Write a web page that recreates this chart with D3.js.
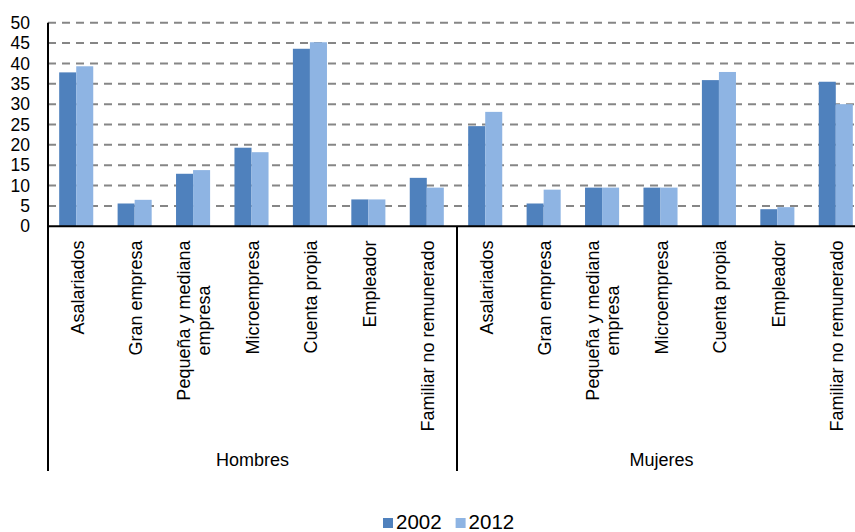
<!DOCTYPE html>
<html>
<head>
<meta charset="utf-8">
<script src="https://cdn.jsdelivr.net/npm/d3@7/dist/d3.min.js"></script>
<style>
  html, body { margin: 0; padding: 0; background: #fff; }
  svg { display: block; font-family: "Liberation Sans", Arial, sans-serif; }
</style>
</head>
<body>
<svg id="chart" width="855" height="532"></svg>
<script>
// Ocupación por categoría y sexo, 2002 y 2012 (%)
const groups = ["Hombres", "Mujeres"];
const categories = [
  "Asalariados",
  "Gran empresa",
  "Pequeña y mediana\nempresa",
  "Microempresa",
  "Cuenta propia",
  "Empleador",
  "Familiar no remunerado"
];
const years = ["2002", "2012"];
const hombres2002 = [37.8, 5.6, 12.9, 19.3, 43.6, 6.6, 11.9];
const hombres2012 = [39.3, 6.5, 13.8, 18.2, 45.2, 6.6, 9.5];
const mujeres2002 = [24.6, 5.6, 9.5, 9.5, 35.9, 4.2, 35.5];
const mujeres2012 = [28.1, 9.0, 9.5, 9.5, 37.9, 4.7, 30.0];
const yTicks = [0, 5, 10, 15, 20, 25, 30, 35, 40, 45, 50];

const colors = { "2002": "#4F81BD", "2012": "#8EB4E3" };

(function draw() {
  // Flatten into rows: one per (group, category)
  const rows = [];
  const valuesByGroup = {
    "Hombres": { "2002": hombres2002, "2012": hombres2012 },
    "Mujeres": { "2002": mujeres2002, "2012": mujeres2012 }
  };
  groups.forEach(g => {
    categories.forEach((c, i) => {
      rows.push({
        key: g + "|" + i,
        group: g,
        category: c,
        values: years.map(y => ({ year: y, value: valuesByGroup[g][y][i] }))
      });
    });
  });

  const svg = d3.select("#chart");
  const plotL = 48, plotR = 866, plotT = 22.7, plotB = 226.3, axisEnd = 471;

  const x0 = d3.scaleBand().domain(rows.map(r => r.key)).range([plotL, plotR]).padding(0);
  const step = x0.step();
  const barW = step / 3.43;
  const x1 = d3.scaleBand().domain(years).range([0, 2 * barW]).padding(0);
  const y = d3.scaleLinear().domain([0, 50]).range([plotB, plotT]);

  // Gridlines
  svg.append("g")
    .selectAll("line")
    .data(yTicks.filter(t => t > 0))
    .join("line")
    .attr("x1", plotL).attr("x2", plotR)
    .attr("y1", d => y(d)).attr("y2", d => y(d))
    .attr("stroke", "#868686")
    .attr("stroke-width", 2)
    .attr("stroke-dasharray", "8,6");

  // Bars
  const cat = svg.append("g")
    .selectAll("g")
    .data(rows)
    .join("g")
    .attr("transform", d => `translate(${x0(d.key) + (step - 2 * barW) / 2 - 1},0)`);

  cat.selectAll("rect")
    .data(d => d.values)
    .join("rect")
    .attr("x", d => x1(d.year))
    .attr("width", x1.bandwidth())
    .attr("y", d => y(d.value))
    .attr("height", d => y(0) - y(d.value))
    .attr("fill", d => colors[d.year]);

  // Y axis labels
  const yAxis = d3.axisLeft(y).tickValues(yTicks).tickSize(0).tickPadding(0);
  const yg = svg.append("g").attr("transform", `translate(${plotL - 18},0)`).call(yAxis);
  yg.select(".domain").remove();
  yg.selectAll("text")
    .attr("font-size", 17.5)
    .attr("font-family", "Liberation Sans, Arial, sans-serif")
    .attr("fill", "#000");

  // Axis lines
  svg.append("line")
    .attr("x1", plotL).attr("x2", plotR)
    .attr("y1", y(0)).attr("y2", y(0))
    .attr("stroke", "#000").attr("stroke-width", 2);
  svg.append("line")
    .attr("x1", plotL).attr("x2", plotL)
    .attr("y1", plotT).attr("y2", axisEnd)
    .attr("stroke", "#000").attr("stroke-width", 2);
  // Separator between groups
  const sepX = x0(groups[1] + "|0");
  svg.append("line")
    .attr("x1", sepX).attr("x2", sepX)
    .attr("y1", y(0)).attr("y2", axisEnd)
    .attr("stroke", "#000").attr("stroke-width", 2);

  // Rotated category labels
  const labelTop = 240.5;
  const lineGap = 20;
  const labels = svg.append("g")
    .attr("font-size", 18)
    .attr("fill", "#000");

  rows.forEach(r => {
    const lines = r.category.split("\n");
    const cx = x0(r.key) + step / 2;
    const g = labels.append("g");
    const texts = lines.map((ln, i) => {
      const off = (i - (lines.length - 1) / 2) * lineGap;
      return g.append("text")
        .attr("text-anchor", "middle")
        .attr("dy", "0.35em")
        .text(ln)
        .datum(off);
    });
    const maxLen = d3.max(texts, t => t.node().getComputedTextLength());
    const cy = labelTop + maxLen / 2;
    texts.forEach(t => {
      const off = t.datum();
      t.attr("transform", `translate(${cx + off},${cy}) rotate(-90)`);
    });
  });

  // Group labels
  svg.append("g")
    .selectAll("text")
    .data(groups)
    .join("text")
    .attr("x", g => {
      const first = x0(g + "|0");
      const last = x0(g + "|" + (categories.length - 1)) + step;
      return (first + last) / 2;
    })
    .attr("y", 466)
    .attr("text-anchor", "middle")
    .attr("font-size", 18)
    .attr("fill", "#000")
    .text(d => d);

  // Legend
  const legend = svg.append("g").attr("transform", "translate(383,518)");
  let lx = 0;
  years.forEach(yr => {
    legend.append("rect")
      .attr("x", lx).attr("y", 0)
      .attr("width", 10).attr("height", 10)
      .attr("fill", colors[yr]);
    const t = legend.append("text")
      .attr("x", lx + 13).attr("y", 10.5)
      .attr("font-size", 20.5)
      .attr("fill", "#000")
      .text(yr);
    lx += 13 + t.node().getComputedTextLength() + 14;
  });
})();
</script>
</body>
</html>
